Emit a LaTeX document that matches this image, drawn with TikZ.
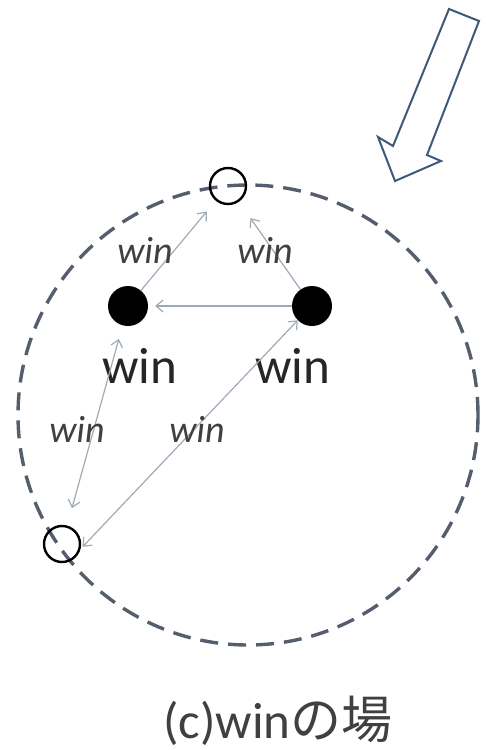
\documentclass[tikz,border=0pt]{standalone}
\usepackage{fontspec}
\setmainfont{Carlito}
\newfontfamily\jpfont{Noto Sans CJK JP}
\usepackage{xcolor}
\usepackage{tikz}
\usetikzlibrary{arrows.meta,positioning}

\definecolor{ringgray}{RGB}{84,94,108}
\definecolor{linkgray}{RGB}{160,170,182}
\definecolor{arrowblue}{RGB}{62,90,120}

\begin{document}
\begin{tikzpicture}[
    x=1pt, y=-1pt,
    player/.style={circle, fill=black, minimum size=40pt, inner sep=0pt},
    spot/.style={circle, draw=black, line width=2.4pt, minimum size=36pt, inner sep=0pt},
    ring/.style={draw=ringgray, line width=3.4pt, dash pattern=on 18pt off 10pt},
    bigwin/.style={font=\fontsize{51}{60}\selectfont, text=black!85, anchor=base},
    edgewin/.style={font=\itshape\fontsize{38}{44}\selectfont, text=black!75, anchor=base},
    link/.style={-{Straight Barb[length=7pt,width=12pt]}, line width=1.2pt, draw=linkgray},
    blink/.style={{Straight Barb[length=7pt,width=12pt]}-{Straight Barb[length=7pt,width=12pt]}, line width=1.2pt, draw=linkgray}
]
    \useasboundingbox (0,0) rectangle (485,750);

    % the field
    \draw[ring] (248,415) circle[radius=230pt];

    % big hollow arrow, top right
    \draw[draw=arrowblue, line width=2pt, fill=white, line join=miter]
        (449,9) -- (479,21) -- (427,155) -- (441,161) -- (395,181)
        -- (378,137) -- (393,146) -- cycle;

    % players and open spots
    \node[spot]   (top) at (228,186) {};
    \node[spot]   (bl)  at (62,544)  {};
    \node[player] (ld)  at (128,306) {};
    \node[player] (rd)  at (312,306) {};

    % labels under the players
    \node[bigwin] (lwin) at (140,383) {win};
    \node[bigwin] (rwin) at (293,383) {win};

    % links
    \draw[link, shorten >=14pt] (ld) -- (top);
    \draw[link, shorten >=20pt] (rd) -- (top);
    \draw[link, shorten >=7pt]  (rd) -- (ld);
    \draw[blink, shorten <=14pt, shorten >=18pt] (ld) -- (bl);
    \draw[blink, shorten <=3pt] (bl.-15) -- (rd.225);

    % link labels
    \node[edgewin] (e1) at (145,263) {win};
    \node[edgewin] (e2) at (265,263) {win};
    \node[edgewin] (e3) at (77,442)  {win};
    \node[edgewin] (e4) at (197,442) {win};

    % caption
    \node[anchor=base, text=black!75, font=\fontsize{51}{60}\selectfont] (cap) at (278,738) {(c)win{\jpfont の場}};

\end{tikzpicture}
\end{document}
